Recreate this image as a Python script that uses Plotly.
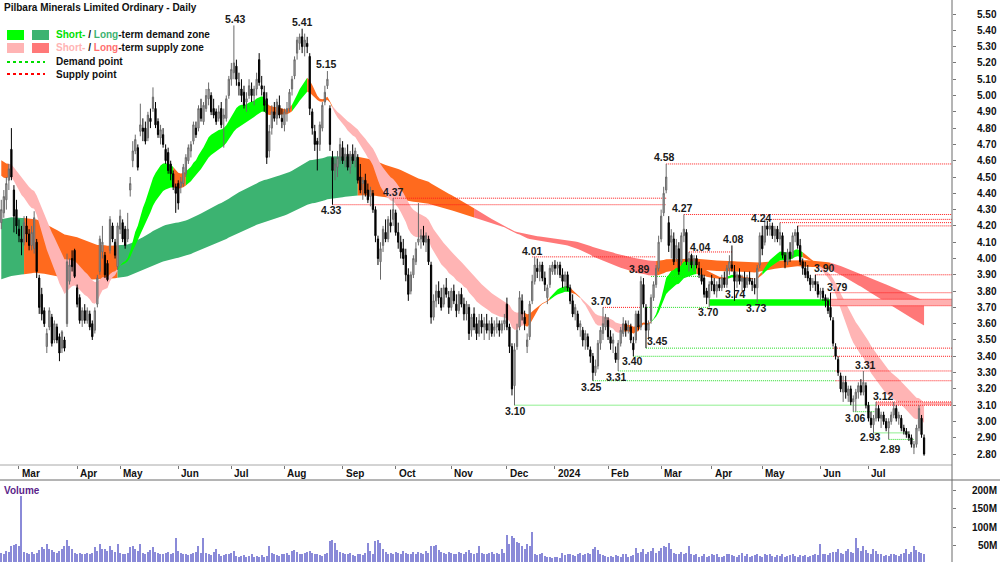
import numpy as np
import pandas as pd
import plotly.graph_objects as go

# ---------------- data ----------------
opens = [
 4.22,4.28,4.36,4.48,4.67,4.42,4.30,4.18,4.12,4.10,
 4.20,4.15,4.08,4.06,4.10,3.88,3.78,3.68,3.46,3.58,
 3.64,3.50,3.58,3.52,3.45,3.50,3.60,3.86,4.00,4.05,
 3.82,3.76,3.62,3.68,3.62,3.66,3.60,3.56,3.72,3.92,
 4.04,4.02,3.97,4.05,4.20,4.10,3.95,4.18,4.22,4.18,
 4.12,4.42,4.60,4.66,4.68,4.78,4.80,4.80,4.74,4.86,
 4.92,4.92,4.84,4.74,4.76,4.67,4.65,4.58,4.52,4.44,
 4.46,4.44,4.46,4.52,4.60,4.66,4.72,4.80,4.80,4.92,
 4.84,4.92,4.98,5.00,4.92,4.90,4.86,4.92,4.86,4.86,
 5.00,5.10,5.14,5.18,5.08,5.04,5.02,4.96,5.00,5.04,
 5.00,5.04,5.22,5.06,5.02,4.98,4.66,4.80,4.90,4.86,
 4.94,4.86,4.82,4.90,4.92,5.04,5.12,5.26,5.32,5.36,
 5.30,5.32,5.24,4.90,4.78,4.72,4.70,4.80,4.96,5.06,
 4.92,4.62,4.54,4.56,4.62,4.68,4.60,4.64,4.56,4.64,
 4.60,4.62,4.50,4.46,4.48,4.42,4.38,4.40,4.30,4.12,
 3.98,4.08,4.16,4.12,4.22,4.24,4.28,4.16,4.10,4.06,
 4.02,3.90,3.80,3.90,3.98,4.10,4.12,4.14,4.10,4.12,
 3.96,3.64,3.74,3.80,3.76,3.72,3.82,3.76,3.70,3.80,
 3.72,3.68,3.78,3.72,3.66,3.70,3.56,3.66,3.60,3.54,
 3.62,3.58,3.60,3.56,3.60,3.56,3.58,3.60,3.56,3.60,
 3.72,3.58,3.46,3.22,3.46,3.58,3.74,3.64,3.46,3.52,
 3.74,3.86,3.94,3.92,3.96,3.88,3.76,3.84,3.92,3.96,
 3.94,3.96,3.90,3.86,3.90,3.82,3.74,3.66,3.66,3.58,
 3.56,3.50,3.52,3.44,3.40,3.30,3.34,3.48,3.54,3.58,
 3.62,3.52,3.48,3.42,3.38,3.48,3.54,3.60,3.56,3.58,
 3.48,3.50,3.66,3.58,3.84,3.70,3.56,3.62,3.76,3.84,
 3.94,4.12,4.28,4.42,4.22,4.10,4.12,4.00,4.06,3.98,
 4.14,4.16,3.98,4.02,3.96,4.00,3.94,3.90,3.88,3.80,
 3.76,3.86,3.84,3.80,3.84,3.82,3.88,3.84,3.94,3.96,
 3.92,3.86,3.90,3.86,3.88,3.84,3.88,3.86,3.84,3.82,
 3.96,4.14,4.10,4.20,4.18,4.20,4.14,4.18,4.12,4.14,
 4.02,3.98,4.04,4.02,4.14,4.16,4.08,3.98,3.94,3.92,
 3.88,3.84,3.86,3.84,3.78,3.80,3.76,3.74,3.70,3.62,
 3.46,3.38,3.28,3.18,3.24,3.16,3.20,3.12,3.14,3.18,
 3.22,3.18,3.22,3.10,3.02,2.98,3.02,3.08,3.02,3.04,
 3.00,2.96,3.00,3.04,3.08,3.02,3.02,2.96,2.94,2.92,
 2.90,2.84,2.86,2.96,3.02,2.90]
highs = [
 4.36,4.42,4.50,4.58,4.80,4.45,4.36,4.24,4.20,4.26,
 4.26,4.18,4.20,4.29,4.12,3.90,3.82,3.70,3.57,3.70,
 3.66,3.62,3.60,3.54,3.56,3.52,4.03,4.00,4.05,4.06,
 3.84,3.78,3.70,3.72,3.70,3.68,3.62,3.70,3.90,4.14,
 4.20,4.04,3.99,4.26,4.22,4.12,4.22,4.30,4.24,4.20,
 4.28,4.50,4.72,4.76,4.70,4.95,4.86,4.84,4.90,4.92,
 5.05,4.96,4.86,4.82,4.80,4.70,4.68,4.60,4.54,4.46,
 4.48,4.50,4.58,4.64,4.70,4.72,4.84,4.84,4.94,4.98,
 4.96,5.04,5.08,5.02,4.98,4.92,4.94,4.96,4.92,5.00,
 5.12,5.20,5.43,5.22,5.14,5.10,5.06,5.02,5.10,5.08,
 5.06,5.14,5.26,5.12,5.06,5.02,4.82,4.94,4.96,4.98,
 5.00,4.92,4.92,4.96,5.04,5.12,5.24,5.36,5.38,5.41,
 5.38,5.36,5.26,4.92,4.82,4.74,4.84,4.96,5.06,5.15,
 4.94,4.66,4.62,4.66,4.74,4.72,4.68,4.70,4.66,4.70,
 4.68,4.64,4.58,4.50,4.52,4.46,4.44,4.42,4.32,4.14,
 4.10,4.20,4.24,4.26,4.30,4.37,4.30,4.22,4.14,4.12,
 4.06,3.94,3.92,4.02,4.10,4.34,4.18,4.20,4.16,4.14,
 3.98,3.78,3.84,3.86,3.82,3.84,3.88,3.80,3.82,3.84,
 3.78,3.80,3.82,3.76,3.74,3.72,3.66,3.70,3.64,3.66,
 3.66,3.64,3.66,3.62,3.64,3.62,3.64,3.62,3.62,3.66,
 3.76,3.60,3.48,3.48,3.60,3.80,3.78,3.68,3.54,3.74,
 3.90,4.01,4.00,3.98,3.98,3.92,3.84,3.96,3.98,3.99,
 3.98,3.98,3.94,3.92,3.92,3.84,3.78,3.72,3.68,3.62,
 3.58,3.56,3.54,3.46,3.42,3.38,3.50,3.58,3.70,3.66,
 3.64,3.56,3.54,3.46,3.50,3.58,3.64,3.62,3.62,3.60,
 3.52,3.68,3.68,3.89,3.88,3.72,3.62,3.78,3.86,3.96,
 4.14,4.30,4.44,4.58,4.26,4.18,4.16,4.12,4.10,4.16,
 4.27,4.18,4.04,4.03,4.02,4.02,3.98,3.94,3.90,3.82,
 3.86,3.90,3.88,3.86,3.88,3.90,3.92,3.96,4.02,4.08,
 3.96,3.92,3.94,3.90,3.92,3.90,3.92,3.88,3.88,3.96,
 4.16,4.20,4.24,4.23,4.22,4.22,4.20,4.20,4.22,4.16,
 4.04,4.06,4.10,4.16,4.18,4.20,4.12,4.00,3.98,3.96,
 3.90,3.88,3.90,3.86,3.82,3.82,3.78,3.76,3.79,3.64,
 3.48,3.40,3.30,3.28,3.28,3.22,3.22,3.16,3.20,3.24,
 3.26,3.31,3.24,3.12,3.06,3.04,3.12,3.10,3.06,3.06,
 3.02,3.02,3.06,3.12,3.10,3.06,3.04,2.98,2.96,2.94,
 2.92,2.88,2.98,3.10,3.04,2.92]
lows = [
 4.18,4.25,4.30,4.42,4.48,4.16,4.15,4.10,4.02,4.08,
 4.10,4.05,4.05,4.03,3.88,3.66,3.62,3.58,3.42,3.56,
 3.46,3.48,3.48,3.37,3.42,3.43,3.58,3.84,3.92,3.88,
 3.70,3.60,3.58,3.60,3.60,3.56,3.50,3.54,3.70,3.90,
 4.00,3.88,3.86,4.03,4.10,4.00,3.93,4.15,4.10,4.06,
 4.10,4.38,4.56,4.64,4.54,4.75,4.72,4.70,4.72,4.80,
 4.90,4.80,4.74,4.70,4.68,4.58,4.52,4.48,4.42,4.28,
 4.30,4.40,4.44,4.50,4.58,4.62,4.70,4.74,4.78,4.84,
 4.82,4.90,4.94,4.88,4.86,4.82,4.84,4.80,4.68,4.84,
 4.98,5.06,5.10,5.06,5.00,4.96,4.92,4.90,4.98,4.96,
 4.94,5.00,5.06,5.00,4.90,4.58,4.62,4.76,4.84,4.82,
 4.86,4.80,4.78,4.84,4.90,5.00,5.10,5.22,5.28,5.26,
 5.24,5.26,4.88,4.76,4.66,4.54,4.66,4.78,4.94,5.04,
 4.66,4.33,4.48,4.50,4.58,4.58,4.56,4.54,4.52,4.58,
 4.56,4.46,4.40,4.36,4.38,4.34,4.32,4.28,4.10,3.96,
 3.87,4.04,4.10,4.10,4.16,4.20,4.14,4.06,4.00,3.96,
 3.86,3.74,3.78,3.88,3.96,4.08,4.06,4.08,4.04,3.96,
 3.60,3.62,3.70,3.72,3.68,3.70,3.76,3.66,3.68,3.72,
 3.64,3.66,3.70,3.62,3.62,3.50,3.52,3.56,3.50,3.52,
 3.54,3.50,3.54,3.50,3.52,3.52,3.54,3.52,3.54,3.56,
 3.56,3.42,3.16,3.10,3.44,3.56,3.62,3.56,3.42,3.50,
 3.72,3.84,3.88,3.86,3.86,3.80,3.72,3.82,3.90,3.90,
 3.90,3.88,3.82,3.80,3.80,3.72,3.64,3.62,3.56,3.52,
 3.46,3.44,3.44,3.36,3.25,3.28,3.32,3.44,3.50,3.56,
 3.50,3.44,3.42,3.36,3.31,3.46,3.52,3.52,3.54,3.48,
 3.40,3.48,3.56,3.56,3.70,3.45,3.50,3.60,3.74,3.82,
 3.92,4.10,4.26,4.40,4.04,4.00,3.96,3.98,3.90,3.96,
 4.10,3.96,3.92,3.94,3.92,3.94,3.88,3.84,3.76,3.72,
 3.70,3.80,3.78,3.76,3.80,3.80,3.82,3.82,3.90,3.92,
 3.74,3.82,3.84,3.80,3.80,3.82,3.84,3.80,3.78,3.73,
 3.94,4.02,4.08,4.14,4.14,4.12,4.10,4.10,4.08,4.00,
 3.94,3.96,3.98,4.00,4.10,4.06,3.96,3.90,3.88,3.86,
 3.80,3.82,3.80,3.76,3.74,3.74,3.70,3.66,3.62,3.46,
 3.38,3.28,3.18,3.12,3.14,3.12,3.10,3.06,3.06,3.14,
 3.16,3.16,3.08,3.00,2.96,2.93,3.00,3.00,2.96,2.98,
 2.94,2.89,2.98,3.02,3.00,2.98,2.94,2.92,2.90,2.88,
 2.84,2.80,2.84,2.94,2.90,2.79]
closes = [
 4.30,4.38,4.46,4.55,4.50,4.26,4.20,4.14,4.10,4.22,
 4.15,4.08,4.16,4.25,3.92,3.70,3.66,3.60,3.54,3.68,
 3.48,3.60,3.50,3.42,3.55,3.45,3.98,3.96,3.95,3.89,
 3.72,3.62,3.68,3.62,3.68,3.58,3.52,3.68,3.88,4.12,
 4.10,3.90,3.87,4.24,4.12,4.02,4.20,4.26,4.12,4.08,
 4.18,4.46,4.66,4.73,4.56,4.82,4.78,4.72,4.88,4.84,
 4.99,4.82,4.76,4.79,4.70,4.60,4.54,4.52,4.44,4.40,
 4.34,4.47,4.56,4.62,4.68,4.70,4.82,4.76,4.92,4.86,
 4.94,5.00,5.04,4.90,4.88,4.84,4.90,4.82,4.88,4.98,
 5.10,5.16,5.20,5.10,5.06,5.00,4.94,4.98,5.06,5.00,
 5.04,5.10,5.08,5.04,4.94,4.62,4.78,4.90,4.86,4.96,
 4.88,4.84,4.90,4.92,5.02,5.10,5.22,5.34,5.36,5.30,
 5.34,5.30,4.92,4.80,4.70,4.70,4.82,4.94,5.02,5.10,
 4.70,4.54,4.58,4.62,4.70,4.60,4.64,4.56,4.64,4.60,
 4.66,4.48,4.42,4.48,4.40,4.36,4.42,4.30,4.14,4.00,
 4.06,4.18,4.12,4.24,4.20,4.30,4.16,4.10,4.04,4.00,
 3.90,3.78,3.90,4.00,4.06,4.12,4.14,4.10,4.14,3.98,
 3.64,3.74,3.80,3.76,3.70,3.82,3.78,3.70,3.80,3.74,
 3.68,3.78,3.72,3.66,3.72,3.54,3.64,3.58,3.54,3.62,
 3.58,3.60,3.56,3.60,3.54,3.58,3.60,3.56,3.60,3.62,
 3.58,3.46,3.20,3.44,3.56,3.76,3.66,3.60,3.50,3.72,
 3.86,3.96,3.92,3.96,3.88,3.84,3.82,3.94,3.96,3.94,
 3.96,3.90,3.86,3.90,3.82,3.74,3.66,3.70,3.58,3.60,
 3.50,3.54,3.46,3.40,3.30,3.34,3.48,3.56,3.60,3.64,
 3.52,3.48,3.50,3.38,3.48,3.56,3.60,3.56,3.58,3.50,
 3.44,3.66,3.58,3.86,3.72,3.56,3.60,3.76,3.84,3.94,
 4.10,4.26,4.40,4.50,4.08,4.14,3.98,4.08,3.92,4.14,
 4.18,3.98,4.00,3.96,4.00,3.96,3.90,3.86,3.78,3.76,
 3.84,3.84,3.80,3.84,3.82,3.88,3.84,3.94,3.98,3.94,
 3.86,3.90,3.86,3.88,3.82,3.88,3.86,3.84,3.82,3.94,
 4.14,4.06,4.20,4.18,4.20,4.14,4.18,4.12,4.16,4.02,
 3.98,4.04,4.00,4.14,4.16,4.08,3.98,3.94,3.90,3.88,
 3.84,3.86,3.84,3.78,3.80,3.76,3.74,3.68,3.64,3.48,
 3.40,3.30,3.20,3.24,3.18,3.20,3.12,3.14,3.18,3.22,
 3.18,3.24,3.10,3.02,2.98,3.02,3.08,3.02,3.04,3.00,
 2.96,3.00,3.04,3.08,3.02,3.04,2.96,2.94,2.92,2.90,
 2.86,2.86,2.96,3.08,2.92,2.80]
volume_m = [
 30,28,35,32,48,52,55,50,185,34, 30,26,32,28,30,38,45,40,55,42,
 38,34,30,36,40,48,65,50,42,30, 28,30,26,28,30,26,30,45,35,55,
 40,42,36,50,38,34,55,30,28,26, 30,45,48,40,35,55,30,28,34,38,
 45,32,30,28,26,30,32,28,30,72, 35,30,26,28,25,26,30,32,50,30,
 70,30,26,24,32,40,26,22,24,26, 28,30,35,22,20,22,24,20,22,26,
 20,22,18,24,20,22,50,30,26,24, 22,28,26,30,24,35,38,32,28,26,
 30,34,36,30,28,26,24,22,28,30, 62,66,58,38,34,30,28,26,30,24,
 22,26,28,24,30,58,36,28,62,66, 58,40,32,28,30,26,34,30,28,36,
 30,28,26,32,28,34,30,28,36,30, 50,48,52,38,34,30,28,32,30,26,
 28,34,30,26,32,38,30,26,30,48, 30,28,26,30,34,28,30,26,40,30,
 80,55,75,70,60,58,48,40,55,50, 86,28,24,26,30,22,20,18,16,18,
 18,16,30,24,26,28,24,22,26,30, 24,28,30,26,42,46,38,28,24,22,
 20,22,20,24,22,20,26,28,20,22, 24,44,30,32,40,28,34,36,44,30,
 36,44,48,46,57,40,30,26,28,32, 26,30,48,26,24,28,20,22,26,20,
 22,26,24,28,20,18,22,26,28,24, 22,20,24,30,22,28,20,22,24,26,
 22,20,28,24,26,22,20,24,22,26, 20,22,24,26,22,20,24,22,24,20,
 22,24,26,24,55,28,26,24,30,32, 34,42,30,28,36,40,32,30,72,44,
 36,50,38,30,28,42,36,28,26,22, 24,22,26,28,24,22,26,30,40,28,
 32,48,38,34,30,28]

asx_holidays = ["2023-04-07", "2023-04-10", "2023-04-25", "2023-06-12",
                "2023-12-25", "2023-12-26", "2024-01-01", "2024-01-26",
                "2024-03-29", "2024-04-01", "2024-04-25", "2024-06-10"]

# zone colouring segments (start index of each coloured stretch)
short_seg_start = [0, 3, 46, 68, 73, 105, 115, 121, 131, 207, 217, 225, 229, 246, 257, 275, 287, 290, 301, 317, 323]
short_seg_kind  = ["n", "s", "d", "n", "d", "n", "d", "n", "s", "n", "d", "n", "s", "n", "d", "n", "d", "n", "d", "n", "s"]
long_seg_start = [0, 9, 46, 141, 187, 259, 328]
long_seg_kind  = ["d", "n", "d", "n", "s", "n", "s"]

# demand / supply points: (price, start index, end index or None = to the axis)
supply_lines = [(4.33, 131, 263), (4.37, 155, 263), (4.01, 210, 259), (3.70, 238, 253),
                (4.58, 263, None), (4.27, 270, None), (4.04, 272, 289), (4.24, 302, None),
                (4.22, 308, None), (4.20, 315, None), (3.90, 322, None), (3.79, 328, None),
                (3.75, 328, None), (3.71, 328, None), (3.45, 329, None), (3.40, 329, None),
                (3.31, 330, None), (3.25, 330, None), (3.12, 346, None), (3.10, 346, None)]
demand_lines = [(3.10, 203, 346), (3.25, 234, 330), (3.31, 244, 330), (3.40, 250, 329),
                (3.45, 255, 329), (3.70, 253, 280), (3.89, 257, 276), (3.06, 337, 346),
                (2.93, 345, 359), (2.89, 351, 361)]
demand_zones = [(3.71, 3.75, 280, 328)]
supply_zones = [(3.71, 3.75, 328, None), (3.10, 3.12, 346, None)]

level_text = ["5.43", "5.41", "5.15", "4.33", "4.37", "4.01", "3.10", "3.89", "4.58", "4.27",
              "4.04", "4.08", "4.24", "3.70", "3.45", "3.40", "3.31", "3.25", "3.70", "3.74",
              "3.73", "3.90", "3.79", "3.31", "3.12", "3.06", "2.93", "2.89"]
level_idx = [92.8, 119, 128.8, 130.8, 155.2, 210.1, 203.2, 252.6, 262.3, 269.5,
             276.4, 289.8, 300.7, 237.6, 259.4, 249.5, 243.4, 233.5, 279.6, 290.6,
             298.9, 325.8, 330.8, 341.8, 348.8, 337.7, 343.8, 351.6]
level_shift = [6, 7, 7, -5, 6, 6, -6, 7, 7, 6,
               5, 6, 1, 6, 7, -5, -6, -6, -5, 7,
               -5, 7, 6, 6, 6, -6, -4, -10]

price_ticks = [round(2.8 + 0.1 * k, 2) for k in range(28)]
volume_ticks = [50e6, 100e6, 150e6, 200e6]

# ---------------- derived ----------------
n = len(closes)
idx = np.arange(n)
all_days = pd.bdate_range("2023-02-20", "2024-12-31")
days = all_days[~all_days.isin(pd.to_datetime(asx_holidays))][:n]
month_idx = [i for i in range(1, n) if days[i].month != days[i - 1].month]
month_txt = ["2024" if days[i].month == 1 else days[i].strftime("%b") for i in month_idx]


def ema(vals, span, seed):
    a = 2.0 / (span + 1)
    e = seed
    out = []
    for v in vals:
        e = e + a * (v - e)
        out.append(e)
    return np.array(out)


c = np.array(closes)
s_fast, s_slow = ema(c, 20, 4.53), ema(c, 35, 4.62)
l_fast, l_slow = ema(c, 150, 4.24), ema(c, 250, 3.87)

X_LEFT, X_RIGHT = -0.51, 376.05
Y_LO, Y_HI = 2.733, 5.586
W, H, R = 1000, 562, 48
PW = W - R
FONT = "Liberation Sans, Arial, sans-serif"

C_SHORT = {"d": "#00ff00", "s": "#ffb4b4", "n": "#ff6a1e"}
C_LONG = {"d": "#3cb371", "s": "#ff7878", "n": "#ff6a1e"}

fig = go.Figure()


def add_band(fast, slow, starts, kinds, cmap):
    up, lo = np.maximum(fast, slow), np.minimum(fast, slow)
    bounds = starts + [n - 1]
    for k in range(len(starts)):
        s, e = bounds[k], bounds[k + 1]
        xs = list(idx[s:e + 1]) + list(idx[s:e + 1][::-1])
        ys = list(up[s:e + 1]) + list(lo[s:e + 1][::-1])
        fig.add_trace(go.Scatter(x=xs, y=ys, fill="toself", fillcolor=cmap[kinds[k]],
                                 line=dict(width=0), mode="lines", hoverinfo="skip",
                                 showlegend=False, xaxis="x", yaxis="y"))


add_band(l_fast, l_slow, long_seg_start, long_seg_kind, C_LONG)
add_band(s_fast, s_slow, short_seg_start, short_seg_kind, C_SHORT)


def add_zones(zones, col):
    for lo_, hi_, s, e in zones:
        e = X_RIGHT if e is None else e
        fig.add_trace(go.Scatter(x=[s, e, e, s], y=[lo_, lo_, hi_, hi_], fill="toself", fillcolor=col,
                                 line=dict(width=0), mode="lines", hoverinfo="skip", showlegend=False))


add_zones(demand_zones, "#00ff00")
add_zones(supply_zones, "#ffb0b0")


def add_levels(lines, color):
    xs, ys = [], []
    for p, s, e in lines:
        e = X_RIGHT if e is None else e
        xs += [s, e, None]
        ys += [p, p, None]
    fig.add_trace(go.Scatter(x=xs, y=ys, mode="lines", line=dict(color=color, width=1, dash="1px,1px"),
                             hoverinfo="skip", showlegend=False))


add_levels(demand_lines, "#22dd22")
add_levels(supply_lines, "#ff1a1a")

fig.add_trace(go.Candlestick(
    x=idx, open=opens, high=highs, low=lows, close=closes, xaxis="x", yaxis="y3",
    increasing=dict(line=dict(color="#6a6a6a", width=1), fillcolor="#b4b4b4"),
    decreasing=dict(line=dict(color="#000000", width=1), fillcolor="#000000"),
    whiskerwidth=0, showlegend=False, hoverinfo="skip"))

fig.add_trace(go.Bar(x=idx, y=np.array(volume_m) * 1e6, xaxis="x2", yaxis="y2",
                     marker=dict(color="#8a8ad8", line=dict(width=0)), width=0.45,
                     showlegend=False, hoverinfo="skip"))

price_dom0 = 1 - 465 / H
vol_dom1 = 82 / H

fig.update_layout(
    width=W, height=H, margin=dict(l=0, r=R, t=0, b=0),
    paper_bgcolor="white", plot_bgcolor="white", bargap=0,
    font=dict(family=FONT, size=10, color="#111"),
    xaxis=dict(domain=[0, 1], range=[X_LEFT, X_RIGHT], anchor="y", showgrid=False, zeroline=False,
               showticklabels=False, ticks="outside", ticklen=3, tickcolor="#777",
               tickvals=month_idx, rangeslider=dict(visible=False), showline=False),
    yaxis=dict(domain=[price_dom0, 1], range=[Y_LO, Y_HI], side="right", anchor="x",
               showgrid=False, zeroline=False, showticklabels=False, ticks="outside",
               ticklen=3, tickcolor="#777", tickvals=price_ticks),
    yaxis3=dict(overlaying="y", range=[Y_LO, Y_HI], visible=False, side="right", anchor="x"),
    xaxis2=dict(domain=[0, 1], range=[X_LEFT, X_RIGHT], anchor="y2", visible=False),
    yaxis2=dict(domain=[0, vol_dom1], range=[5.45e6, 229e6], side="right", anchor="x2",
                showgrid=False, zeroline=False, showticklabels=False, ticks="outside",
                ticklen=3, tickcolor="#777", tickvals=volume_ticks),
)


def px(x):
    return x / PW


def py(y):
    return 1 - y / H


shapes = [
    dict(type="line", xref="paper", yref="paper", x0=0, x1=1, y0=price_dom0, y1=price_dom0,
         line=dict(color="#a8a8a8", width=1)),
    dict(type="line", xref="paper", yref="paper", x0=0, x1=W / PW, y0=vol_dom1, y1=vol_dom1,
         line=dict(color="#6a6a6a", width=1)),
    dict(type="line", xref="paper", yref="paper", x0=1, x1=1, y0=0, y1=1,
         line=dict(color="#6a6a6a", width=1)),
]
# legend swatches
for (x0, x1, y0, y1, col) in [(7, 24, 30, 40, C_SHORT["d"]), (32, 49, 30, 40, C_LONG["d"]),
                              (7, 24, 43, 53, C_SHORT["s"]), (32, 49, 43, 53, C_LONG["s"])]:
    shapes.append(dict(type="rect", xref="paper", yref="paper", x0=px(x0), x1=px(x1),
                       y0=py(y1), y1=py(y0), fillcolor=col, line=dict(width=0)))
for yy, col in [(62, "#00dd00"), (74, "#ff0000")]:
    shapes.append(dict(type="line", xref="paper", yref="paper", x0=px(7), x1=px(45), y0=py(yy), y1=py(yy),
                       line=dict(color=col, width=2, dash="dot")))
fig.update_layout(shapes=shapes)

ann = []


def text(x, y, t, color="#111"):
    ann.append(dict(x=x, y=y, xref="paper", yref="paper", text="<b>" + t + "</b>", showarrow=False,
                    xanchor="left", yanchor="middle",
                    font=dict(family=FONT, size=10, color=color)))


text(px(2), py(7), "Pilbara Minerals Limited Ordinary - Daily")
text(px(54), py(35), "<span style='color:#00e000'>Short-</span> / <span style='color:#3cb371'>Long</span>-term demand zone")
text(px(54), py(48), "<span style='color:#ffb4b4'>Short-</span> / <span style='color:#ff7070'>Long</span>-term supply zone")
text(px(54), py(62), "Demand point")
text(px(54), py(74), "Supply point")
text(px(2), py(490), "Volume", color="#5b1f8a")

for i, t in zip(month_idx, month_txt):
    ann.append(dict(x=i, y=py(474), xref="x", yref="paper", text="<b>" + t + "</b>", showarrow=False,
                    xanchor="left", yanchor="middle", xshift=1,
                    font=dict(family=FONT, size=10, color="#111")))

for p in price_ticks:
    ann.append(dict(x=px(999), y=p, xref="paper", yref="y", text="<b>%.2f</b>" % p, showarrow=False,
                    xanchor="right", yanchor="middle", font=dict(family=FONT, size=10, color="#111")))
for v in volume_ticks:
    ann.append(dict(x=px(999), y=v, xref="paper", yref="y2", text="<b>%dM</b>" % int(v / 1e6),
                    showarrow=False, xanchor="right", yanchor="middle",
                    font=dict(family=FONT, size=10, color="#111")))

for t, i, sh in zip(level_text, level_idx, level_shift):
    ann.append(dict(x=i, y=float(t), xref="x", yref="y", text="<b>" + t + "</b>", showarrow=False,
                    xanchor="center", yanchor="middle", yshift=sh,
                    font=dict(family=FONT, size=10.5, color="#1a1a1a")))

fig.update_layout(annotations=ann)
fig.write_html("out.html")
